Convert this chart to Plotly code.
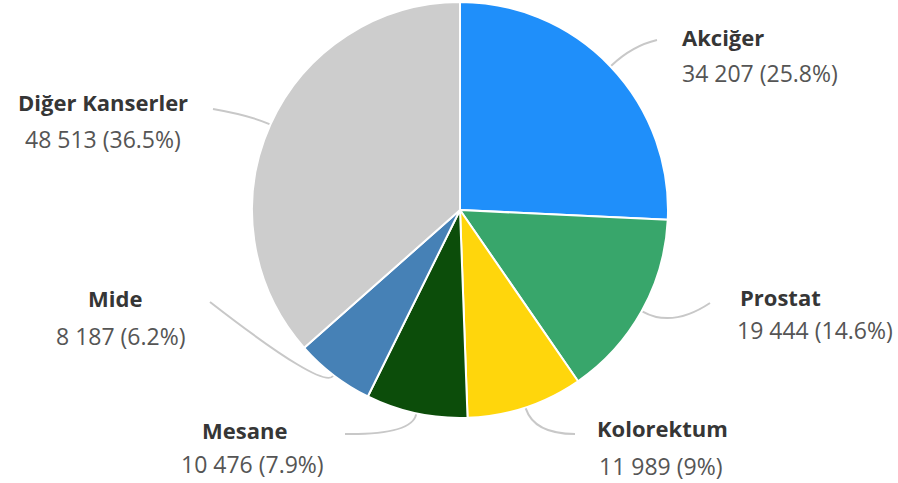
import math
import plotly.graph_objects as go

# Cancer cases by site
labels = ["Akciğer", "Prostat", "Kolorektum", "Mesane", "Mide", "Diğer Kanserler"]
values = [34207, 19444, 11989, 10476, 8187, 48513]
pct_text = ["25.8%", "14.6%", "9%", "7.9%", "6.2%", "36.5%"]
colors = ["#1f8ffa", "#38a66b", "#ffd60c", "#0c4d0a", "#4681b6", "#cdcdcd"]

W, H = 898, 483
CX, CY, R = 460, 210, 208  # pie centre and radius in pixels

# label placement: (name x, name y, value x, value y, anchor, leader end x, leader end y, bend)
label_layout = {
    "Akciğer":         (680, 37, 680, 73, "left", 657, 40, 30),
    "Prostat":         (738, 297, 735, 330, "left", 710, 303, 35),
    "Kolorektum":      (662, 428, 660, 466, "center", 575, 434, 28),
    "Mesane":          (245, 430, 252, 464, "center", 345, 434, 22),
    "Mide":            (115, 298, 120, 336, "center", 210, 302, 18),
    "Diğer Kanserler": (103, 102, 103, 139, "center", 213, 109, 22),
}


def px(x):
    return x / W


def py(y):
    return 1 - y / H


def fmt(v):
    return f"{v:,}".replace(",", " ")


fig = go.Figure(
    go.Pie(
        labels=labels,
        values=values,
        sort=False,
        direction="clockwise",
        rotation=0,
        marker=dict(colors=colors, line=dict(color="white", width=2)),
        textinfo="none",
        hoverinfo="label+value+percent",
        domain=dict(x=[px(CX - R), px(CX + R)], y=[py(CY + R), py(CY - R)]),
        showlegend=False,
    )
)

total = sum(values)
cum = 0.0
annotations = []
shapes = []
for lab, val, pct in zip(labels, values, pct_text):
    mid = (cum + val / 2) / total * 2 * math.pi
    cum += val
    nx, ny, vx, vy, anchor, ex, ey, bend = label_layout[lab]
    sx = CX + (R + 1) * math.sin(mid)
    sy = CY - (R + 1) * math.cos(mid)
    cx = CX + (R + bend) * math.sin(mid)
    cy = CY - (R + bend) * math.cos(mid)
    path = (
        f"M {px(sx)} {py(sy)} Q {px(cx)} {py(cy)} {px(ex)} {py(ey)}"
    )
    shapes.append(dict(type="path", path=path, xref="paper", yref="paper",
                       line=dict(color="#c8c8c8", width=2)))
    annotations.append(dict(
        x=px(nx), y=py(ny), xref="paper", yref="paper", text=f"<b>{lab}</b>",
        showarrow=False, xanchor=anchor, yanchor="middle",
        font=dict(family="Open Sans", size=22, color="#363636"),
    ))
    annotations.append(dict(
        x=px(vx), y=py(vy), xref="paper", yref="paper", text=f"{fmt(val)} ({pct})",
        showarrow=False, xanchor=anchor, yanchor="middle",
        font=dict(family="Open Sans", size=23, color="#555555"),
    ))

fig.update_layout(
    width=W, height=H,
    margin=dict(l=0, r=0, t=0, b=0),
    paper_bgcolor="white",
    plot_bgcolor="white",
    annotations=annotations,
    shapes=shapes,
)

fig.write_html("out.html")
